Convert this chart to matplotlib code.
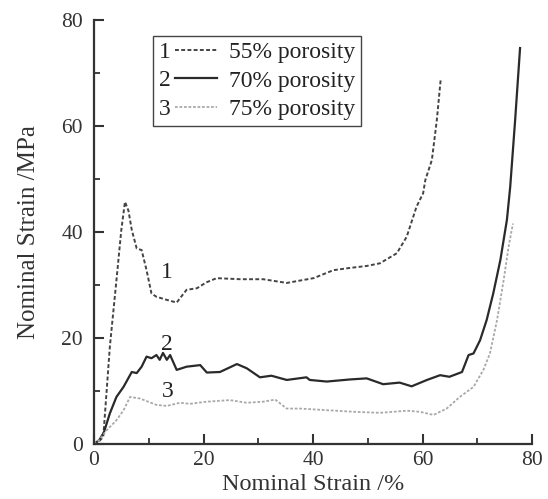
import matplotlib
matplotlib.use("Agg")
import matplotlib.pyplot as plt
from matplotlib.legend_handler import HandlerLine2D
from matplotlib.lines import Line2D
from matplotlib.text import Text
from matplotlib.ticker import MultipleLocator

plt.rcParams['font.family'] = ['Liberation Serif', 'DejaVu Serif']

# 55% porosity
x1 = [0, 1.0, 1.7, 2.9, 4.1, 5.0, 5.66, 6.3, 6.9, 7.8, 8.7, 9.6, 10.5, 11.4, 13.3, 15.1,
      16.9, 18.8, 20.5, 22.4, 26.7, 30.9, 35.2, 40.1, 43.7, 46.5, 49.8, 52.2, 55.3, 57.1,
      58.9, 60.1, 60.5, 61.7, 62.6, 63.3]
y1 = [0, 0.6, 1.4, 18.4, 30.9, 40.5, 45.7, 44.0, 40.4, 36.9, 36.6, 32.8, 28.4, 27.8, 27.2, 26.7,
      29.1, 29.4, 30.5, 31.3, 31.1, 31.1, 30.4, 31.3, 32.8, 33.2, 33.6, 34.1, 36.0, 39.1,
      44.8, 47.3, 49.8, 53.6, 61.1, 68.7]

# 70% porosity
x2 = [0, 1.0, 1.8, 2.9, 4.1, 5.4, 6.9, 7.8, 8.7, 9.6, 10.5, 11.4, 12.0, 12.6, 13.3, 13.9,
      15.1, 16.9, 19.4, 20.6, 23.0, 26.1, 27.9, 30.3, 32.4, 35.2, 38.8, 39.4, 42.5, 46.8,
      49.8, 52.8, 55.8, 58.0, 60.8, 63.2, 64.9, 67.2, 68.4, 69.3, 70.5, 71.7, 72.9, 74.2,
      75.4, 76.0, 76.9, 77.8]
y2 = [0, 0.8, 2.2, 5.8, 8.9, 10.8, 13.6, 13.4, 14.6, 16.5, 16.2, 16.8, 15.9, 17.2, 15.9, 16.8,
      14.0, 14.6, 14.9, 13.5, 13.6, 15.1, 14.3, 12.6, 12.9, 12.1, 12.6, 12.1, 11.8, 12.2,
      12.4, 11.3, 11.6, 10.9, 12.1, 13.0, 12.7, 13.6, 16.8, 17.1, 19.6, 23.4, 28.4, 34.7,
      42.3, 48.5, 61.1, 74.7]

# 75% porosity
x3 = [0, 1.0, 2.3, 4.1, 5.4, 6.6, 8.4, 9.9, 11.4, 13.3, 15.7, 17.5, 20.6, 24.8, 27.9, 30.9,
      33.1, 35.2, 37.7, 42.5, 47.4, 52.2, 57.1, 59.5, 62.0, 64.4, 66.8, 69.3, 71.1, 72.3,
      73.6, 74.8, 75.7, 76.5]
y3 = [0, 0.8, 2.6, 4.5, 6.4, 8.9, 8.6, 8.0, 7.4, 7.2, 7.8, 7.6, 8.0, 8.3, 7.8, 8.0,
      8.4, 6.7, 6.7, 6.4, 6.1, 5.9, 6.3, 6.1, 5.5, 6.7, 8.9, 10.8, 14.0, 17.1,
      23.4, 30.9, 37.2, 41.6]

nums = ['1', '2', '3']
labels = ['55% porosity', '70% porosity', '75% porosity']
num_pos = [(13.3, 32.3), (13.4, 18.7), (13.4, 9.9)]

fig = plt.figure(figsize=(5.48, 4.99), dpi=100)
ax = fig.add_axes([0.1715, 0.110, 0.7995, 0.850])

l1, = ax.plot(x1, y1, color='#444444', lw=1.4, ls=(0, (2.0, 1.2)))
l2, = ax.plot(x2, y2, color='#2a2a2a', lw=1.6, ls='-')
l3, = ax.plot(x3, y3, color='#a8a8a8', lw=1.3, ls=(0, (1.5, 1.0)))

for n, (px, py) in zip(nums, num_pos):
    ax.text(px, py, n, fontsize=17, ha='center', va='center', color='#222222')

ax.set_xlim(0, 80)
ax.set_ylim(0, 80)
ax.xaxis.set_major_locator(MultipleLocator(20))
ax.xaxis.set_minor_locator(MultipleLocator(10))
ax.yaxis.set_major_locator(MultipleLocator(20))
ax.yaxis.set_minor_locator(MultipleLocator(10))
for s in ['top', 'right']:
    ax.spines[s].set_visible(False)
for s in ['left', 'bottom']:
    ax.spines[s].set_linewidth(1.6)
    ax.spines[s].set_color('#333333')
ax.tick_params(which='major', direction='in', length=7, width=1.5, color='#333333',
               labelsize=15.5, labelcolor='#333333')
ax.tick_params(which='minor', direction='in', length=4, width=1.3, color='#333333')
ax.tick_params(axis='x', pad=5)
ax.tick_params(axis='y', pad=8)

ax.set_xlabel('Nominal Strain /%', fontsize=17.5, color='#333333', labelpad=3)
ax.set_ylabel('Nominal Strain /MPa', fontsize=18, color='#333333', labelpad=15)


class NumHandler(HandlerLine2D):
    def __init__(self, num, **kw):
        super().__init__(**kw)
        self.num = num

    def create_artists(self, legend, orig_handle, xdescent, ydescent, width, height,
                       fontsize, trans):
        y = height / 2.0 - ydescent
        t = Text(-xdescent, y, self.num, fontsize=fontsize, va='center_baseline',
                 ha='left', color='#222222')
        t.set_transform(trans)
        line = Line2D([-xdescent + 0.26 * width, -xdescent + 0.95 * width], [y, y])
        self.update_prop(line, orig_handle, legend)
        line.set_transform(trans)
        return [t, line]


leg = ax.legend([l1, l2, l3], labels, loc='upper left', bbox_to_anchor=(0.135, 0.963),
                fontsize=17, handlelength=2.6, handletextpad=0.35, borderpad=0.25,
                labelspacing=0.3, borderaxespad=0, fancybox=False, framealpha=1,
                edgecolor='#444444',
                handler_map={l1: NumHandler('1'), l2: NumHandler('2'), l3: NumHandler('3')})
leg.get_frame().set_linewidth(1.0)
for t in leg.get_texts():
    t.set_color('#222222')

fig.savefig('out.png', dpi=100)
